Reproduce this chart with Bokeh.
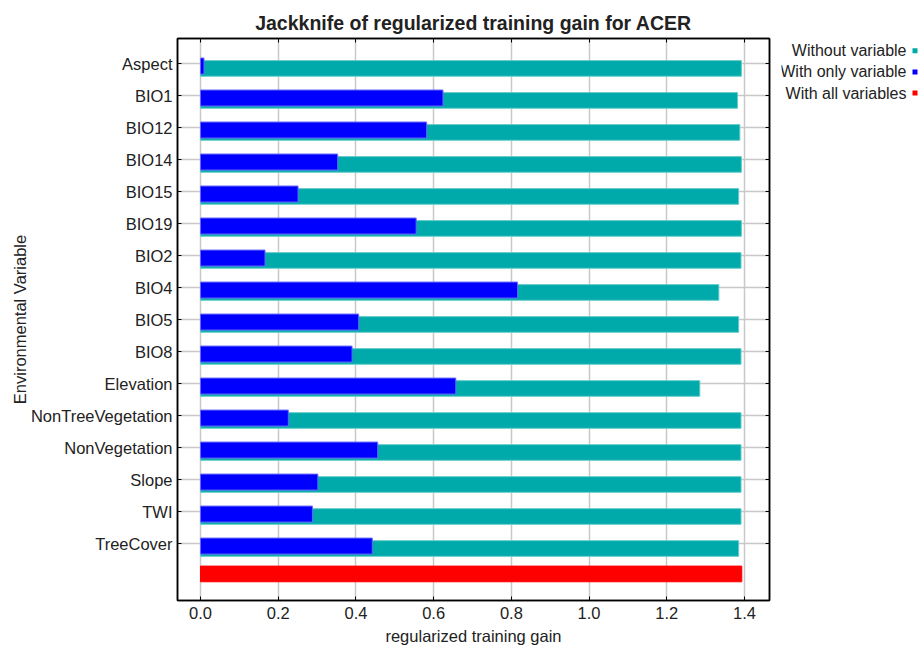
from bokeh.plotting import figure
from bokeh.layouts import row
from bokeh.models import (Range1d, FixedTicker, LinearAxis, ColumnDataSource,
                          NumeralTickFormatter)
from bokeh.embed import file_html
from bokeh.resources import INLINE

# Jackknife results for ACER (regularized training gain)
variables = ["Aspect", "BIO1", "BIO12", "BIO14", "BIO15", "BIO19", "BIO2", "BIO4",
             "BIO5", "BIO8", "Elevation", "NonTreeVegetation", "NonVegetation",
             "Slope", "TWI", "TreeCover"]
without_variable = [1.392, 1.382, 1.388, 1.392, 1.385, 1.392, 1.391, 1.334,
                    1.385, 1.391, 1.285, 1.391, 1.391, 1.391, 1.391, 1.385]
with_only_variable = [0.009, 0.624, 0.582, 0.353, 0.251, 0.555, 0.166, 0.816,
                      0.407, 0.390, 0.657, 0.226, 0.456, 0.302, 0.288, 0.442]
with_all_variables = 1.393

x_ticks = [0.0, 0.2, 0.4, 0.6, 0.8, 1.0, 1.2, 1.4]
legend_items = ["Without variable", "With only variable", "With all variables"]

TEAL = "#00aaaa"
BLUE = "#0000ff"
RED = "#ff0000"
FONT = "Liberation Sans"
TEXT = "#222222"

rows = list(range(len(variables)))
all_row = len(variables)

teal_src = ColumnDataSource(dict(y=[r + 0.145 for r in rows], right=without_variable))
blue_src = ColumnDataSource(dict(y=[r + 0.07 for r in rows], right=with_only_variable))
red_src = ColumnDataSource(dict(y=[all_row - 0.06], right=[with_all_variables]))

MAIN_W = 781
FRAME_TOP, FRAME_BOTTOM = 38, 600
p = figure(width=MAIN_W, height=648,
           x_range=Range1d(-0.0592, 1.4643), y_range=Range1d(16.77, -0.79),
           output_backend="svg", toolbar_location=None,
           min_border_left=177, min_border_right=12,
           min_border_top=FRAME_TOP, min_border_bottom=648 - FRAME_BOTTOM,
           title="Jackknife of regularized training gain for ACER")

p.title.align = "center"
p.title.text_font = FONT
p.title.text_font_size = "19.5px"
p.title.text_font_style = "bold"
p.title.text_color = TEXT

p.hbar(y="y", left=0, right="right", height=0.49, source=teal_src,
       fill_color=TEAL, line_color="#66cccc", line_width=1)
p.hbar(y="y", left=0, right="right", height=0.5, source=blue_src,
       fill_color=BLUE, line_color="#6666ff", line_width=1)
p.hbar(y="y", left=0, right="right", height=0.49, source=red_src,
       fill_color=RED, line_color=RED, line_width=1)

# axes: labelled on the left and bottom, tick-only on the top and right
xa = p.xaxis[0]
xa.ticker = FixedTicker(ticks=x_ticks)
xa.formatter = NumeralTickFormatter(format="0.0")
xa.axis_label = "regularized training gain"
ya = p.yaxis[0]
ya.ticker = FixedTicker(ticks=rows)
ya.major_label_overrides = {r: v for r, v in zip(rows, variables)}
ya.axis_label = "Environmental Variable"

top_axis = LinearAxis(ticker=FixedTicker(ticks=x_ticks),
                      major_label_overrides={t: "" for t in x_ticks})
right_axis = LinearAxis(ticker=FixedTicker(ticks=rows),
                        major_label_overrides={r: "" for r in rows})
p.add_layout(top_axis, "above")
p.add_layout(right_axis, "right")

for ax in [xa, ya, top_axis, right_axis]:
    ax.axis_line_color = "black"
    ax.axis_line_width = 1.5
    ax.major_tick_in = 4
    ax.major_tick_out = 0
    ax.major_tick_line_color = "black"
    ax.minor_tick_line_color = None
    ax.major_label_text_font = FONT
    ax.major_label_text_font_size = "16.5px"
    ax.major_label_text_color = TEXT
    ax.axis_label_text_font = FONT
    ax.axis_label_text_font_size = "16.5px"
    ax.axis_label_text_font_style = "normal"
    ax.axis_label_text_color = TEXT

top_axis.major_label_standoff = 0
right_axis.major_label_standoff = 0
xa.major_label_standoff = 6
xa.axis_label_standoff = 5
ya.major_label_standoff = 5
ya.axis_label_standoff = -1

p.xgrid.ticker = FixedTicker(ticks=x_ticks)
p.ygrid.ticker = FixedTicker(ticks=rows)
for g in [p.xgrid[0], p.ygrid[0]]:
    g.grid_line_color = "#c8c8c8"
    g.grid_line_width = 1.5

p.outline_line_color = "black"
p.outline_line_width = 1.5
p.background_fill_color = "white"
p.border_fill_color = "white"

# legend panel to the right: text followed by a colour square.
# Its frame lines up with the main frame, so its y range spans the same pixels.
LEG_W = 924 - MAIN_W
leg = figure(width=LEG_W, height=648, x_range=Range1d(MAIN_W, 924),
             y_range=Range1d(FRAME_BOTTOM, FRAME_TOP), output_backend="svg",
             toolbar_location=None, x_axis_location=None, y_axis_location=None,
             min_border=0)
leg.grid.visible = False
leg.outline_line_color = None
leg.border_fill_color = "white"
leg.background_fill_color = "white"

leg_y = [50.2, 71.4, 92.6]
leg_src = ColumnDataSource(dict(x=[906] * 3, y=leg_y, sq_x=[914.5] * 3,
                                text=legend_items, color=[TEAL, BLUE, RED]))
leg.text(x="x", y="y", text="text", source=leg_src, text_align="right",
         text_baseline="middle", text_font={"value": FONT}, text_font_size="16px",
         text_color=TEXT)
leg.rect(x="sq_x", y="y", width=5, height=5, source=leg_src,
         fill_color="color", line_color=None)

layout = row(p, leg, spacing=0)
open("out.html", "w").write(file_html(layout, INLINE))
